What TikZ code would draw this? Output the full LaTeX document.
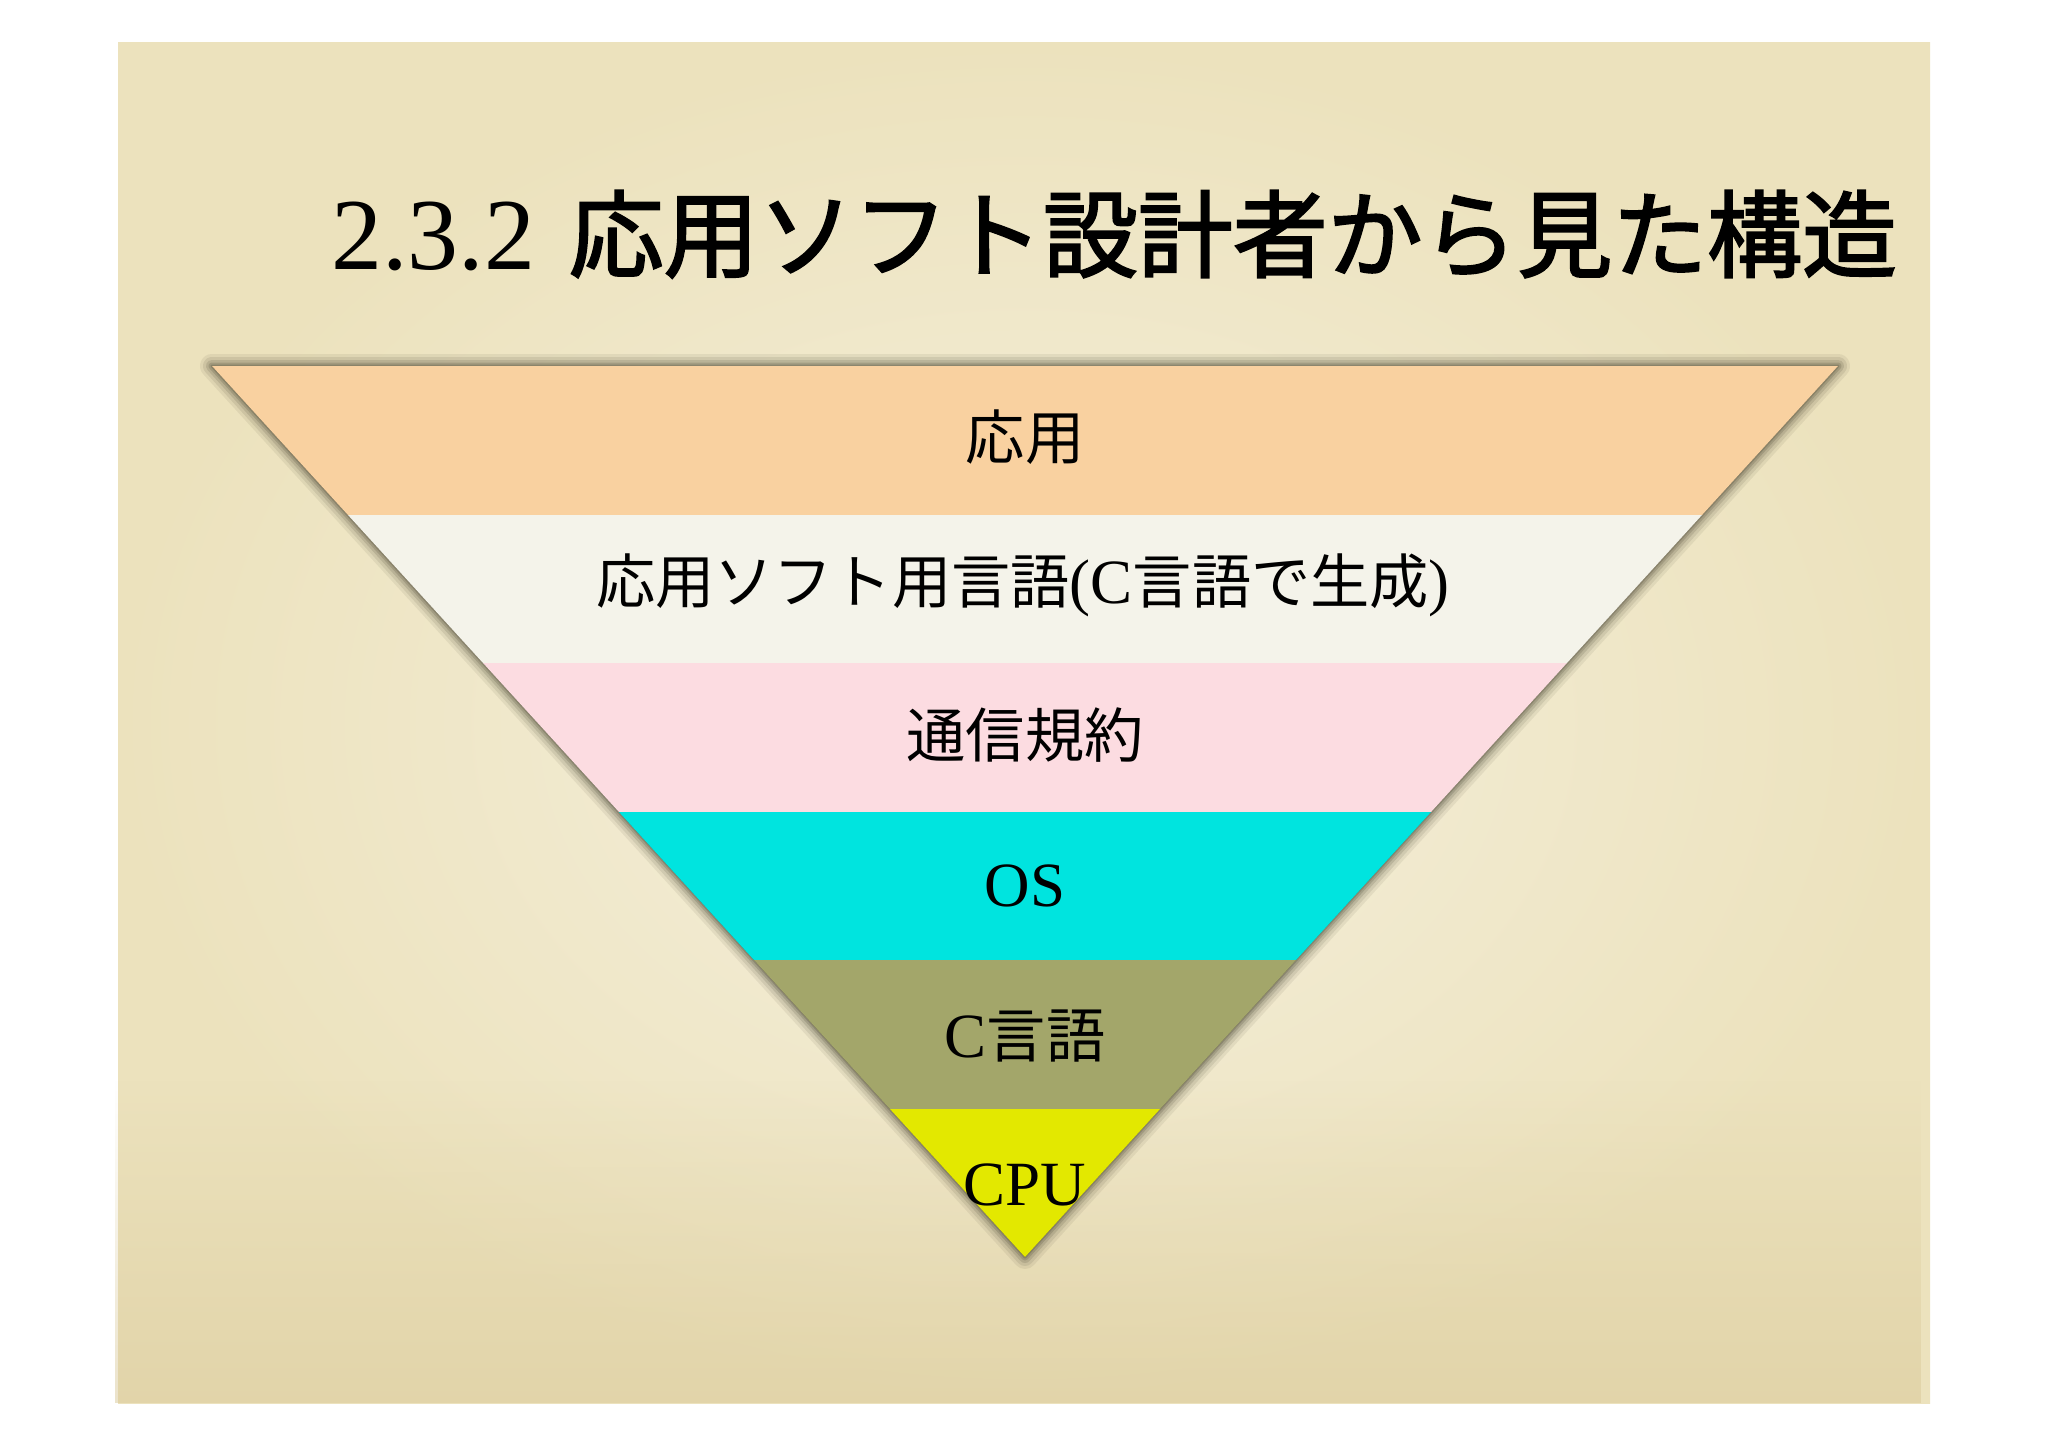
\documentclass[tikz,border=0pt]{standalone}
\usepackage{fontspec}
\usetikzlibrary{fadings}
\setmainfont{Liberation Serif}
\newfontfamily\jp{Noto Sans CJK JP}[Scale=0.94]
\newfontfamily\jph{Noto Sans CJK JP}[Scale=0.93, FakeBold=2.2]
\newcommand\jpt[1]{{\jp #1}}
\definecolor{paperIn}{HTML}{F5F0DD}
\definecolor{paperOut}{HTML}{ECE2BD}
\definecolor{paperBot}{HTML}{D8C796}
\definecolor{bandA}{HTML}{F9D1A0}
\definecolor{bandB}{HTML}{F4F3EA}
\definecolor{bandC}{HTML}{FCDCE1}
\definecolor{bandD}{HTML}{00E4DF}
\definecolor{bandE}{HTML}{A3A66A}
\definecolor{bandF}{HTML}{E3E800}
\definecolor{shadowc}{HTML}{3A3624}
\tikzfading[name=fadeup, top color=transparent!100, bottom color=transparent!0]
\tikzset{
  lab/.style={inner sep=0pt, text=black, font=\fontsize{63}{70}\selectfont},
  titlefont/.style={inner sep=0pt, text=black, font=\fontsize{102}{110}\selectfont}
}
\begin{document}
\begin{tikzpicture}[x=1pt,y=-1pt]
\useasboundingbox (0,0) rectangle (2048,1447);
\fill[white] (0,0) rectangle (2048,1447);
% slide background (parchment)
\shade[inner color=paperIn, outer color=paperOut] (118,43) rectangle (1930,1403);
\fill[paperBot, fill opacity=0.5, path fading=fadeup] (118,1080) rectangle (1930,1403);
% title
\node[titlefont, anchor=base west] (title) at (331,270)
  {2.3.2\hspace{0.33em}{\jph 応用ソフト設計者から見た構造}};
% triangle corners
\coordinate (TL) at (212,366);
\coordinate (TR) at (1838,366);
\coordinate (TIP) at (1025,1257);
% soft shadow
\begin{scope}[shift={(0,11)}]
  \foreach \w/\o in {24/0.08,18/0.1,12/0.14,7/0.18,3/0.22}
    \draw[shadowc, line width=\w pt, draw opacity=\o, line join=round] (TL)--(TR)--(TIP)--cycle;
  \fill[shadowc, fill opacity=0.55] (TL)--(TR)--(TIP)--cycle;
\end{scope}
% bands
\begin{scope}
  \clip (TL)--(TR)--(TIP)--cycle;
  \fill[bandA] (200,366) rectangle (1850,514.5);
  \fill[bandB] (200,514.5) rectangle (1850,663);
  \fill[bandC] (200,663) rectangle (1850,811.5);
  \fill[bandD] (200,811.5) rectangle (1850,960);
  \fill[bandE] (200,960) rectangle (1850,1108.5);
  \fill[bandF] (200,1108.5) rectangle (1850,1260);
\end{scope}
% labels
\node[lab] (l1) at (1025,437) {\jpt{応用}};
\node[lab] (l2) at (1023,585) {\jpt{応用ソフト用言語}(C\jpt{言語で生成})};
\node[lab] (l3) at (1025,735) {\jpt{通信規約}};
\node[lab] (l4) at (1025,886) {OS};
\node[lab] (l5) at (1025,1036) {C\jpt{言語}};
\node[lab] (l6) at (1025,1185) {CPU};
\end{tikzpicture}
\end{document}
